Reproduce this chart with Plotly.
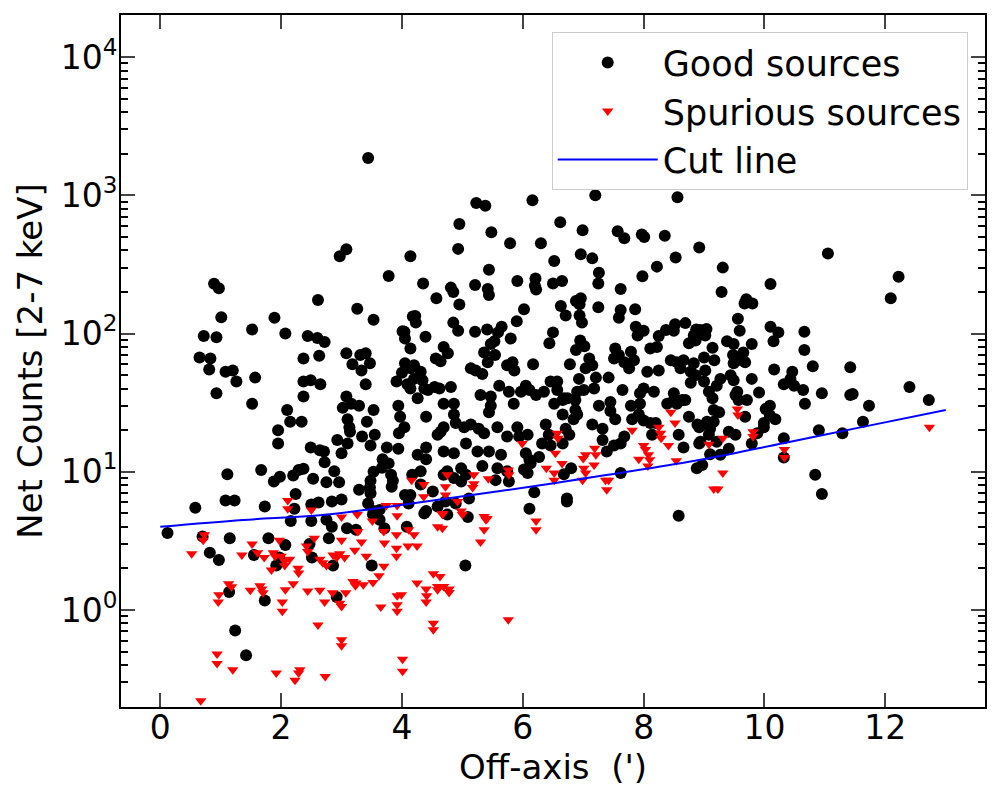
import plotly.graph_objects as go

# good sources: off-axis angle (arcmin) and net counts 2-7 keV
good_x = [
    3.44, 2.97, 3.08, 4.14, 0.89, 0.97, 3.78, 2.61, 3.26, 3.53, 1.01, 1.89, 1.52, 2.07, 0.72, 0.93, 2.44, 2.60, 4.01, 4.18,
    5.23, 5.38, 6.16, 7.20, 8.56, 4.95, 5.48, 6.62, 6.99, 7.57, 7.68, 7.97, 8.01, 8.35, 8.92, 4.93, 5.79, 6.30, 6.96, 7.15,
    6.52, 8.53, 8.22, 5.44, 7.98, 7.26, 7.25, 4.35, 4.81, 4.85, 5.21, 5.42, 5.44, 5.91, 6.21, 6.20, 6.22, 6.50, 6.65, 7.62,
    4.57, 4.95, 6.63, 6.88, 6.96, 6.94, 7.25, 6.02, 6.71, 7.62, 7.59, 7.86, 6.94, 6.98, 4.22, 4.23, 4.85, 5.90, 4.93, 5.21,
    5.41, 5.59, 5.65, 6.50, 7.87, 8.00, 8.52, 8.69, 8.37, 8.50, 8.87, 4.04, 4.39,
    11.05, 9.31, 9.29, 10.10, 9.70, 9.67, 9.80, 9.56, 9.59, 10.10, 10.23, 10.66, 12.22, 12.09, 8.94, 9.04, 8.83,
    2.72, 4.05, 4.14, 0.65, 0.83, 0.81, 1.08, 1.20, 1.26, 1.57, 0.93, 1.52, 2.37, 2.63, 2.37, 2.49, 2.65, 2.37, 3.08, 3.31,
    3.40, 3.18, 3.47, 3.33, 3.40, 4.05, 4.00, 4.14, 3.91, 4.09, 3.08, 3.02, 3.16, 3.29, 3.53, 3.94, 2.10, 2.15, 2.34, 1.95,
    1.95, 3.10, 3.13, 3.14, 3.42, 2.93, 3.10, 3.34, 3.55, 3.48, 3.97, 4.04, 3.95, 3.75, 3.94, 2.49, 2.64, 2.71, 3.00, 2.72,
    2.88, 3.68, 3.78, 3.67, 3.53, 3.48, 3.47, 3.82, 3.85, 3.83, 1.11, 1.67, 1.88, 1.98, 2.20, 2.29, 2.37, 2.53, 2.75, 2.96,
    3.29, 2.24, 1.08, 1.23, 0.58, 1.73, 2.22, 2.50, 2.62, 2.84, 3.00, 3.44, 3.48, 3.53, 3.63, 4.05, 4.11,
    5.53, 5.47, 5.80, 6.44, 6.95, 7.02, 6.88, 7.90, 8.25, 8.89, 8.75, 8.86, 4.69, 4.76, 5.36, 5.42, 5.54, 4.56, 4.64, 5.83,
    5.74, 5.86, 6.17, 6.78, 7.10, 7.15, 7.04, 7.53, 7.59, 7.51, 7.68, 7.76, 7.84, 7.79, 8.11, 8.22, 8.06, 8.25, 8.45, 8.55,
    8.66, 8.83, 8.61, 8.78, 4.20, 4.31, 4.20, 4.34, 4.14, 5.14, 5.22, 5.33, 4.81, 4.54, 4.62, 4.43, 4.26, 4.37, 5.61, 5.77,
    6.05, 6.11, 5.97, 6.22, 6.35, 6.46, 6.57, 6.57, 6.68, 6.90, 7.01, 6.93, 7.21, 7.42, 7.18, 7.65, 7.94, 8.00, 8.17, 8.50,
    8.64, 8.55, 8.69, 8.86, 8.78, 4.69, 4.86, 5.30, 5.47, 5.47, 5.44, 5.85, 6.52, 6.66, 6.74, 6.87, 6.87, 6.66, 6.84, 6.90,
    7.26, 7.45, 7.45, 7.53, 7.79, 7.94, 7.92, 7.81, 8.00, 8.20, 8.39, 8.50, 8.75, 8.92, 4.40, 4.86, 4.89, 5.03, 5.14, 5.27,
    5.36, 4.69, 4.64, 4.59, 5.58, 5.74, 5.91, 5.94, 6.08, 6.38, 6.43, 6.71, 6.77, 6.32, 6.46, 6.66, 7.15, 7.32, 7.32, 7.51,
    7.62, 7.68, 8.11, 8.14, 8.58, 8.66, 8.89, 8.92, 5.06, 4.40, 4.26, 4.40, 4.31, 4.69, 4.86, 5.25, 5.44, 5.64, 6.05, 6.11,
    6.02, 6.08, 6.27, 6.13, 6.68, 6.80, 7.39, 5.33, 5.58, 5.74, 4.98, 5.06, 4.98, 4.75, 4.86, 4.69, 5.55, 5.77, 7.62, 8.88,
    4.17, 4.31, 4.51, 4.14, 6.19, 6.73, 6.73, 4.59, 4.40, 4.72, 4.89, 5.11, 6.11, 8.58,
    9.02, 9.38, 9.49, 9.79, 10.15, 9.14, 9.65, 9.48, 9.00, 9.17, 9.49, 9.68, 9.55, 10.66, 10.16, 10.80, 11.42, 9.02, 9.00, 9.27,
    9.21, 9.44, 9.49, 9.79, 10.46, 10.43, 10.32, 10.49, 10.64, 10.95, 11.42, 11.46, 12.40, 12.72, 11.73, 10.67, 9.08, 9.14, 9.55, 9.52,
    9.57, 9.71, 9.91, 9.16, 9.25, 10.02, 10.09, 9.68, 10.09, 10.18, 9.05, 9.16, 9.10, 9.08, 9.99, 9.99, 9.88, 9.52, 9.41, 8.94,
    10.32, 10.90, 11.29, 11.63, 9.79, 9.21, 9.41, 9.27, 9.10, 8.97, 10.32, 10.84, 10.95,
    0.12, 0.70, 1.15, 0.82, 0.97, 1.55, 1.79, 2.07, 1.92, 1.97, 2.16, 2.50, 2.75, 2.84, 3.09, 3.24, 2.47, 2.79, 2.51, 2.86,
    3.50, 3.52, 3.63, 3.71, 4.08, 1.14, 1.73, 2.92, 1.24, 1.42,
    5.05, 4.37, 4.75, 5.09,
]
good_y = [
    1860, 363, 408, 363, 229, 213, 261, 175, 151, 126, 131, 130, 107, 100, 96, 94, 96, 93, 104, 133,
    880, 840, 920, 1000, 970, 620, 540, 640, 560, 550, 490, 520, 500, 510, 420, 410, 450, 450, 375, 350,
    335, 355, 305, 290, 260, 275, 230, 230, 215, 200, 225, 210, 190, 240, 250, 222, 208, 230, 240, 210,
    180, 162, 158, 172, 180, 163, 155, 150, 135, 148, 130, 150, 135, 120, 134, 120, 120, 123, 105, 103,
    107, 102, 112, 102, 112, 105, 117, 119, 106, 105, 107, 103, 95,
    380, 300, 200, 228, 177, 165, 165, 128, 105, 112, 102, 103, 258, 180, 106, 108, 97,
    87, 92, 78, 67, 66, 55, 53, 54, 45, 48, 37, 31, 66, 69, 45, 46, 43, 35, 72, 70,
    72, 60, 61, 54, 43, 61, 52, 56, 45, 43, 35, 29, 31, 30, 28, 30, 28, 23, 23, 20,
    16, 24, 21, 19.5, 23, 17, 16, 18, 18.5, 15.5, 25, 21, 19, 15, 14.7, 15, 14.3, 14, 13.6, 11.7,
    10.1, 12.3, 11.5, 10.7, 10, 8.6, 7.7, 9.5, 8.6, 7.8, 9.6, 10.3, 8.5, 9.2, 9.4, 10.3, 10.5, 8.9, 8.4, 8.4,
    7.4, 6.9, 6.2, 6.2, 5.5, 5.6, 5.4, 5.8, 6.0, 6.1, 6.3, 5.9, 7.0, 5.2, 5.3, 6.8, 5.9,
    88, 84, 92, 85, 89, 81, 76, 97, 96, 97, 85, 89, 80, 72, 73, 62, 70, 66, 63, 62,
    59, 54, 60, 60, 66, 59, 56, 78, 70, 66, 62, 56, 64, 74, 78, 80, 53, 54, 64, 62,
    64, 61, 56, 53, 59, 53, 47, 46, 40, 56, 54, 51, 41, 41, 40, 39, 34, 40, 42, 38,
    42, 39, 38, 36, 38, 45, 45, 39, 34, 38, 39, 47, 48, 48, 40, 39, 37, 40, 38, 37,
    33, 31, 33, 50, 44, 31, 31, 36, 35, 30, 27, 31, 31, 33, 34, 33, 28, 26, 24, 26,
    30, 32, 27.5, 24, 30, 31, 26, 24, 23.5, 22.5, 31, 33, 25, 21, 25, 26, 22.5, 21, 22, 20.5,
    19, 21, 19.5, 18.5, 21, 18, 21, 18, 18.5, 22, 18.5, 20.5, 18.5, 16, 15.5, 16, 22, 20.5, 17, 15.5,
    16, 18, 22.5, 18.5, 18.5, 15, 22, 16, 16, 15, 13.3, 12.3, 10.1, 14, 13.6, 14, 14, 13.3, 13.6, 12.2,
    10.4, 9.8, 12.8, 11.5, 9.6, 10.6, 14, 11, 10.6, 10.1, 10.6, 9.5, 8.5, 10.1, 9.0, 9.5, 8.7, 8.5, 9.8, 10.6,
    9.5, 8.1, 7.2, 6.8, 7.1, 6.4, 6.1, 5.6, 5.2, 6.1, 5.9, 6.4, 5.4, 4.8,
    97, 88, 84, 84, 88, 79, 73, 70, 67, 64, 61, 62, 64, 76, 55, 58, 57, 54, 45, 47,
    42, 50, 46, 47, 53, 47, 43, 42, 39, 37, 36, 36.5, 41, 33, 30, 31, 38, 34, 38, 36,
    33, 33, 37.5, 28, 27, 28.5, 30, 25, 25.5, 24, 23, 23, 20.5, 18.5, 22.5, 21, 19, 18.5, 19.5, 16.5,
    17.5, 20, 19, 23, 16, 16.5, 14.7, 13.3, 13.4, 11.2, 12.7, 9.5, 6.9,
    3.6, 3.4, 3.3, 2.6, 2.3, 2.5, 3.3, 2.95, 2.1, 2.4, 4.4, 4.4, 4.5, 4.0, 3.9, 3.8, 3.0, 3.3, 2.4, 2.1,
    2.1, 4.9, 4.5, 3.9, 4.0, 1.35, 1.17, 1.24, 0.71, 0.47,
    2.1, 5.0, 4.9, 4.7,
]

# spurious sources
spur_x = [
    2.11, 2.11, 2.50, 3.00, 3.26, 3.74, 3.92, 3.92, 4.16,
    8.45, 8.52, 7.81, 8.25, 8.28, 8.29, 8.41, 8.00, 8.03, 8.08, 8.10, 8.07, 7.92, 8.54, 6.57, 6.58, 5.99, 6.54, 6.65, 7.19, 7.21,
    7.18, 7.04, 7.00, 7.01, 7.04, 6.99, 6.39, 6.52, 6.52, 7.37, 7.42, 7.39, 5.76, 5.77, 5.43, 5.19, 5.19, 5.17, 4.75, 4.72,
    4.72, 4.36, 4.36, 4.92, 4.98, 4.67, 5.36,
    9.55, 9.56, 9.81, 9.81, 9.31, 9.08, 10.33, 10.33, 9.31, 9.16, 9.23, 12.73,
    0.52, 0.73, 0.71, 1.13, 1.18, 0.97, 0.96, 1.35, 1.52, 1.61, 1.72, 1.49, 1.65, 1.70, 1.68, 1.87, 1.90, 1.84, 1.97, 2.00,
    2.06, 2.14, 2.06, 2.28, 2.29, 2.20, 2.07, 2.02, 2.02, 2.42, 2.44, 2.55, 2.64, 2.69, 2.75, 2.86, 2.92, 2.97, 3.05, 3.00,
    3.27, 3.33, 3.22, 3.41, 3.70, 3.62, 3.52, 3.51, 3.70, 3.71, 3.91, 3.91, 3.91, 4.10, 4.11, 2.44, 2.64, 2.85, 2.72, 2.97,
    3.00, 3.07, 3.19, 3.24, 3.36, 3.23, 3.65, 3.92, 3.99, 3.92, 3.92, 2.61, 3.00, 3.00, 0.94, 0.94, 1.20, 1.92, 2.23, 2.29,
    2.31, 2.73, 4.01, 4.01, 0.67,
    4.20, 4.25, 4.59, 4.67, 5.30, 5.36, 5.39, 5.41, 6.22, 6.22, 4.52, 4.63, 4.25, 4.40, 4.41, 4.40, 4.59, 4.69, 4.78, 4.78,
    4.59, 4.52, 4.52, 5.76, 4.67, 5.00,
]
spur_y = [
    6.2, 5.4, 5.3, 4.7, 4.9, 5.7, 5.7, 4.8, 8.7,
    27, 22.5, 20, 21, 19, 17.5, 15.5, 15.5, 14.5, 13.3, 12.2, 11, 12.3, 12, 19, 17.5, 16, 13.6, 11.5, 14.8, 13.3,
    11.2, 13.3, 12.5, 10.6, 9.8, 8.7, 10.6, 9.8, 8.7, 8.7, 8.7, 7.4, 10.3, 9.5, 8.9, 9.5, 8.2, 7.7, 9.5, 7.8,
    6.8, 8.1, 6.6, 6.1, 5.2, 5.0, 4.75,
    28.5, 25.7, 19.5, 18, 17.5, 15.8, 14.5, 12.7, 9.8, 7.5, 7.5, 21,
    2.55, 3.5, 3.2, 1.55, 1.47, 1.29, 1.14, 2.5, 3.0, 2.6, 2.4, 1.39, 1.5, 1.33, 1.42, 2.6, 2.45, 1.95, 3.2, 2.45,
    2.25, 2.33, 2.1, 2.0, 1.85, 1.55, 1.4, 1.14, 0.98, 2.9, 2.65, 3.3, 2.33, 2.2, 2.1, 2.5, 2.4, 2.55, 2.4, 3.2,
    3.7, 3.1, 2.7, 2.45, 2.07, 1.77, 1.58, 4.4, 3.7, 3.05, 3.5, 2.8, 2.45, 2.9, 3.8, 1.37, 1.39, 1.33, 1.14, 1.12,
    1.06, 1.33, 1.61, 1.57, 1.52, 1.5, 1.05, 1.27, 1.29, 1.09, 0.98, 0.78, 0.61, 0.55, 0.48, 0.41, 0.37, 0.35, 0.31, 0.35,
    0.37, 0.33, 0.44, 0.36, 0.22,
    3.5, 2.9, 4.0, 3.9, 3.1, 3.8, 4.5, 4.6, 4.4, 3.8, 1.83, 1.75, 1.57, 1.42, 1.27, 1.14, 1.48, 1.48, 1.42, 1.34,
    1.4, 0.8, 0.72, 0.85, 4.9, 4.9,
]

# cut line
cut_x = [0.0, 1.37, 2.69, 4.16, 6.54, 8.94, 10.31, 11.69, 13.0]
cut_y = [4.0, 4.48, 4.87, 5.9, 8.3, 12.2, 16.1, 21.4, 28.0]

xticks = [0, 2, 4, 6, 8, 10, 12]
ytick_vals = [1, 10, 100, 1000, 10000]
ytick_text = ["10<sup>0</sup>", "10<sup>1</sup>", "10<sup>2</sup>", "10<sup>3</sup>", "10<sup>4</sup>"]

minor_vals = []
for dec in [0.1, 1, 10, 100, 1000, 10000]:
    for m in range(2, 10):
        minor_vals.append(m * dec)

font = "DejaVu Sans"

fig = go.Figure()
fig.add_trace(go.Scatter(x=good_x, y=good_y, mode="markers", name="Good sources",
                         marker=dict(symbol="circle", size=12, color="black", line_width=0)))
fig.add_trace(go.Scatter(x=spur_x, y=spur_y, mode="markers", name="Spurious sources",
                         marker=dict(symbol="triangle-down", size=10, color="red", line_width=0)))
fig.add_trace(go.Scatter(x=cut_x, y=cut_y, mode="lines", name="Cut line",
                         line=dict(color="blue", width=2, shape="spline")))

fig.update_layout(
    width=1000, height=800,
    margin=dict(l=121, r=15, t=15, b=93),
    plot_bgcolor="white", paper_bgcolor="white",
    font=dict(family=font, size=33, color="black"),
    legend=dict(x=0.98, y=0.975, xanchor="right", yanchor="top",
                bgcolor="rgba(255,255,255,0.8)", bordercolor="#cccccc", borderwidth=1,
                font=dict(size=35), itemwidth=100, tracegroupgap=0),
)
fig.update_xaxes(
    range=[-0.65, 13.65], tickvals=xticks, ticks="inside", ticklen=14, tickwidth=2,
    ticklabelstandoff=-10, automargin=False,
    showline=True, linewidth=2, linecolor="black", mirror="ticks", showgrid=False, zeroline=False,
    title=dict(text="Off-axis  (')", font=dict(size=34), standoff=10),
)
fig.update_yaxes(
    type="log", range=[-0.702, 4.305], tickvals=ytick_vals, ticktext=ytick_text,
    ticks="inside", ticklen=14, tickwidth=2, ticklabelstandoff=-5, automargin=False,
    minor=dict(tickvals=minor_vals, ticks="inside", ticklen=7, tickwidth=1.5, tickcolor="black"),
    showline=True, linewidth=2, linecolor="black", mirror="ticks", showgrid=False, zeroline=False,
    title=dict(text="Net Counts [2-7 keV]", font=dict(size=34), standoff=8),
)

# page body has a default margin; drop it so the figure sits at the top-left corner
fig.write_html("out.html", config={"displayModeBar": False},
               post_script="document.body.style.margin='0';")
